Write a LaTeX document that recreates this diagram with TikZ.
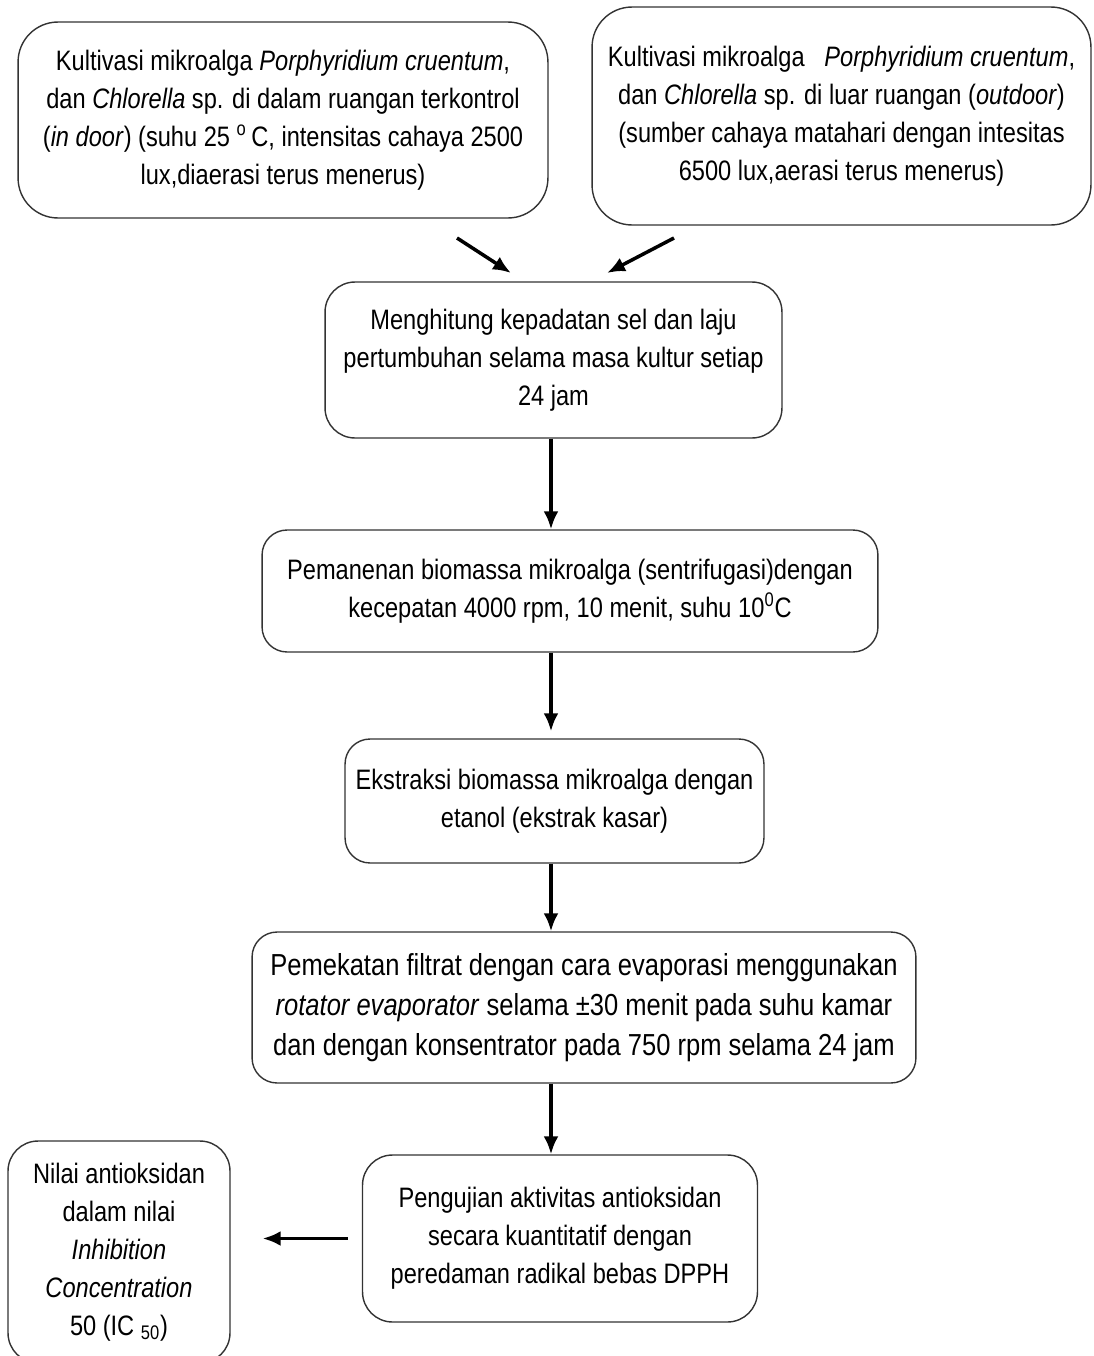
\documentclass[tikz,border=0pt]{standalone}
\usepackage{fontspec}
\setmainfont{Liberation Sans}[FakeStretch=0.84]
\usetikzlibrary{arrows.meta}

\tikzset{
    box/.style={draw=black!80, line width=0.8pt, rounded corners=6mm, align=center, inner sep=0pt,
        font=\fontsize{16}{21.6}\selectfont},
    arr/.style={-{Latex[length=3.6mm, width=3mm]}, line width=2pt}
}

\begin{document}
\begin{tikzpicture}[x=0.02cm, y=-0.02cm]

    \useasboundingbox (0, 0) rectangle (1093, 1356);

    \begin{scope}
        \coordinate (axis) at (551, 0);

        \node [box, rounded corners=8mm, minimum width=10.6cm, minimum height=3.92cm] (indoor) at (283, 120)
            {Kultivasi mikroalga \textit{Porphyridium cruentum},\\
             dan \textit{Chlorella} sp. di dalam ruangan terkontrol\\
             (\textit{in door}) (suhu 25 \textsuperscript{o}\,C, intensitas cahaya 2500\\
             lux,diaerasi terus menerus)};

        \node [box, rounded corners=8mm, minimum width=9.98cm, minimum height=4.36cm] (outdoor) at (841.5, 116)
            {Kultivasi mikroalga \ \ \textit{Porphyridium cruentum},\\
             dan \textit{Chlorella} sp. di luar ruangan (\textit{outdoor})\\
             (sumber cahaya matahari dengan intesitas\\
             6500 lux,aerasi terus menerus)};

        \node [box, minimum width=9.14cm, minimum height=3.12cm] (hitung) at (553.5, 360)
            {Menghitung kepadatan sel dan laju\\
             pertumbuhan selama masa kultur setiap\\
             24 jam};

        \node [box, rounded corners=5mm, minimum width=12.32cm, minimum height=2.44cm] (panen) at (570, 591)
            {Pemanenan biomassa mikroalga (sentrifugasi)dengan\\
             kecepatan 4000 rpm, 10 menit, suhu 10\textsuperscript{0}C};

        \node [box, rounded corners=5mm, minimum width=8.38cm, minimum height=2.48cm] (ekstrak) at (554.5, 801)
            {Ekstraksi biomassa mikroalga dengan\\
             etanol (ekstrak kasar)};

        \node [box, rounded corners=5mm, minimum width=13.28cm, minimum height=3.02cm,
               font=\fontsize{17.3}{22.8}\selectfont] (pekat) at (584, 1007.5)
            {Pemekatan filtrat dengan cara evaporasi menggunakan\\
             \textit{rotator evaporator} selama ±30 menit pada suhu kamar\\
             dan dengan konsentrator pada 750 rpm selama 24 jam};

        \node [box, minimum width=7.9cm, minimum height=3.34cm] (uji) at (560, 1238.5)
            {Pengujian aktivitas antioksidan\\
             secara kuantitatif dengan\\
             peredaman radikal bebas DPPH};

        \node [box, minimum width=4.44cm, minimum height=4.44cm] (ic) at (119, 1252)
            {Nilai antioksidan\\
             dalam nilai\\
             \textit{Inhibition}\\
             \textit{Concentration}\\
             50 (IC \textsubscript{50})};

        % arrows from the two cultures
        \coordinate (in1) at (457, 238);
        \coordinate (in2) at (511, 273);
        \coordinate (out1) at (674, 238);
        \coordinate (out2) at (607, 273);
        \draw [arr] (in1) -- (in2);
        \draw [arr] (out1) -- (out2);

        \draw [arr] (hitung.south -| axis) -- (panen.north -| axis);
        \draw [arr] (panen.south -| axis) -- ([yshift=4pt]ekstrak.north -| axis);
        \draw [arr] (ekstrak.south -| axis) -- (pekat.north -| axis);
        \draw [arr] (pekat.south -| axis) -- (uji.north -| axis);

        \draw [arr, shorten <=0.28cm, shorten >=0.64cm] (uji.west) -- (uji.west -| ic.east);
    \end{scope}

\end{tikzpicture}
\end{document}
